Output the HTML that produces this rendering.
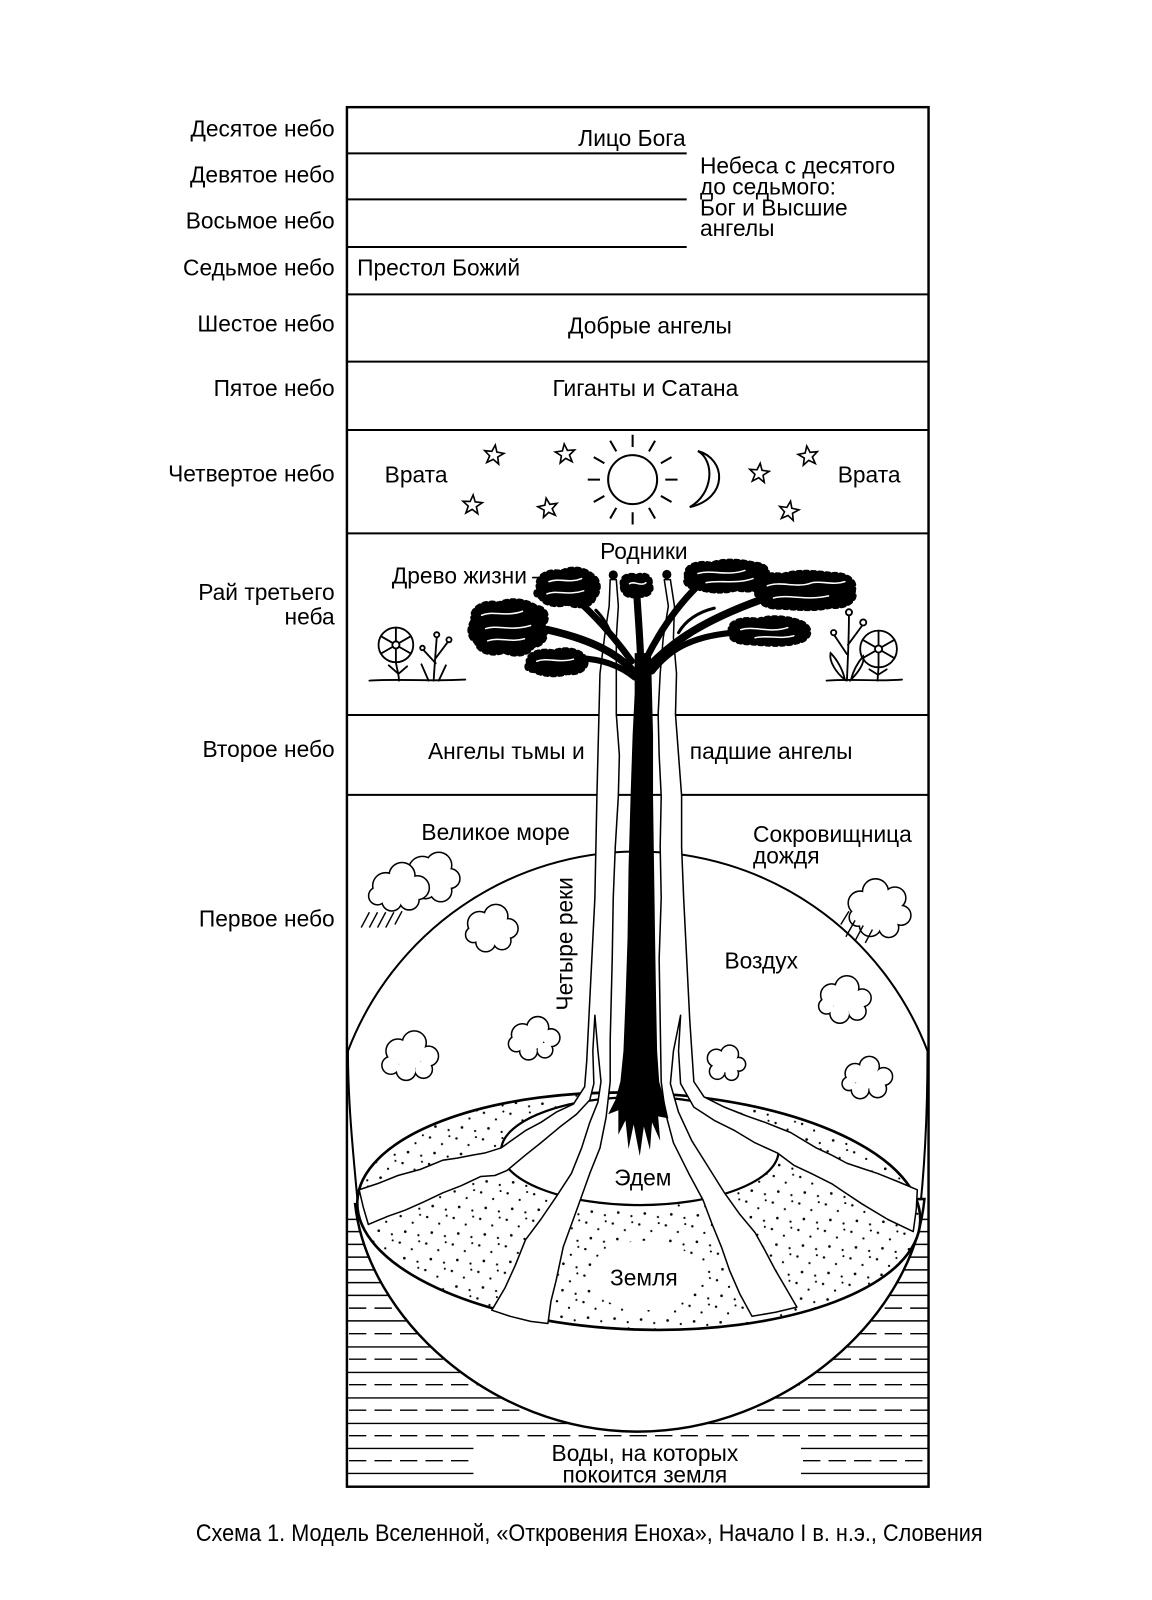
<!DOCTYPE html>
<html><head><meta charset="utf-8"><style>
html,body{margin:0;padding:0;background:#fff;}
svg{display:block;}
text{font-family:"Liberation Sans","Noto Sans CJK SC",sans-serif;font-size:22.3px;fill:#000;}
</style></head><body>
<svg xmlns="http://www.w3.org/2000/svg" xmlns:xlink="http://www.w3.org/1999/xlink" width="1152" height="1600" viewBox="0 0 1129 1568">
<defs>
 <pattern id="dt" width="26" height="26" patternUnits="userSpaceOnUse">
  <circle cx="3" cy="4" r="1.2"/><circle cx="15" cy="10" r="1.1"/><circle cx="8" cy="19" r="1.3"/><circle cx="21" cy="22" r="1.1"/><circle cx="22" cy="2" r="1"/>
 </pattern>
 <clipPath id="rc"><rect x="340" y="105" width="570" height="1352"/></clipPath>
 <polygon id="st" points="0,-10 2.47,-3.4 9.51,-3.09 3.99,1.3 5.88,8.09 0,4.2 -5.88,8.09 -3.99,1.3 -9.51,-3.09 -2.47,-3.4"/>
 <g id="c1b"><circle cx="414" cy="853" r="13"/><circle cx="430" cy="848" r="12"/><circle cx="441" cy="861" r="9"/><circle cx="432" cy="873" r="10"/><circle cx="417" cy="870" r="10"/><circle cx="428" cy="861" r="11"/></g>
 <g id="c1f"><circle cx="378" cy="868" r="12"/><circle cx="394" cy="858" r="12"/><circle cx="409" cy="870" r="11"/><circle cx="401" cy="882" r="9"/><circle cx="384" cy="883" r="9"/><circle cx="370" cy="878" r="8"/><circle cx="390" cy="871" r="12"/></g>
 <g id="c2"><circle cx="470" cy="905" r="11"/><circle cx="486" cy="898" r="11"/><circle cx="498" cy="910" r="9"/><circle cx="492" cy="922" r="8"/><circle cx="476" cy="923" r="9"/><circle cx="464" cy="916" r="7"/><circle cx="481" cy="911" r="11"/></g>
 <g id="c3"><circle cx="390" cy="1030" r="11"/><circle cx="406" cy="1022" r="11"/><circle cx="420" cy="1035" r="9"/><circle cx="415" cy="1048" r="8"/><circle cx="398" cy="1049" r="9"/><circle cx="383" cy="1044" r="8"/><circle cx="401" cy="1036" r="12"/></g>
 <g id="c4"><circle cx="512" cy="1014" r="10"/><circle cx="527" cy="1007" r="10"/><circle cx="540" cy="1017" r="8"/><circle cx="534" cy="1029" r="7"/><circle cx="518" cy="1030" r="8"/><circle cx="506" cy="1023" r="7"/><circle cx="523" cy="1018" r="10"/></g>
 <g id="c5"><circle cx="843" cy="885" r="11"/><circle cx="858" cy="874" r="12"/><circle cx="877" cy="880" r="10"/><circle cx="883" cy="897" r="9"/><circle cx="871" cy="909" r="9"/><circle cx="853" cy="907" r="10"/><circle cx="841" cy="899" r="8"/><circle cx="861" cy="892" r="14"/><circle cx="874" cy="892" r="10"/></g>
 <g id="c6"><circle cx="815" cy="975" r="10"/><circle cx="830" cy="968" r="11"/><circle cx="845" cy="978" r="8"/><circle cx="840" cy="991" r="8"/><circle cx="823" cy="993" r="9"/><circle cx="810" cy="986" r="7"/><circle cx="827" cy="981" r="11"/><circle cx="836" cy="982" r="8"/></g>
 <g id="c7"><circle cx="702" cy="1037" r="8"/><circle cx="715" cy="1033" r="8"/><circle cx="724" cy="1043" r="6"/><circle cx="717" cy="1052" r="6"/><circle cx="703" cy="1050" r="7"/><circle cx="712" cy="1043" r="8"/></g>
 <g id="c8"><circle cx="838" cy="1052" r="9"/><circle cx="852" cy="1045" r="9"/><circle cx="866" cy="1055" r="8"/><circle cx="860" cy="1067" r="8"/><circle cx="843" cy="1068" r="8"/><circle cx="832" cy="1062" r="6"/><circle cx="849" cy="1057" r="10"/><circle cx="858" cy="1058" r="8"/></g>
 <g id="fol">
  <path d="M528,577 C524,566 536,558 550,561 C560,555 574,558 580,564 C588,568 588,580 582,586 C580,594 566,596 556,591 C545,595 532,591 530,585 C524,584 524,580 528,577Z"/>
  <path d="M464,608 C460,597 474,588 489,592 C500,586 517,589 525,595 C537,596 538,608 531,614 C538,622 533,632 522,633 C518,642 503,643 494,638 C482,643 468,638 467,629 C459,625 459,614 464,608Z"/>
  <path d="M518,650 C515,641 530,636 543,639 C554,634 570,638 573,645 C578,652 569,661 556,659 C545,663 530,661 523,657 C516,657 515,653 518,650Z"/>
  <path d="M610,573 C608,565 617,562 624,565 C632,561 639,566 637,573 C641,580 633,585 624,583 C616,586 609,581 610,573Z"/>
  <path d="M673,565 C670,555 684,550 697,553 C710,548 728,550 740,553 C752,553 756,563 748,569 C750,577 735,580 722,577 C708,581 692,579 684,576 C673,576 670,570 673,565Z"/>
  <path d="M742,577 C738,567 752,561 767,564 C782,559 800,561 815,563 C830,562 840,570 836,579 C841,588 828,596 814,594 C798,598 780,596 765,595 C750,596 739,588 742,577Z"/>
  <path d="M716,619 C713,610 727,605 743,608 C757,603 777,606 787,611 C797,617 793,627 781,629 C767,633 749,631 736,630 C722,630 714,626 716,619Z"/>
 </g>
</defs>

<rect x="0" y="0" width="1129" height="1568" fill="#fff"/>

<!-- heaven dividers -->
<path d="M340 150.3H673 M340 195.4H673 M340 242H673 M340 288.5H910 M340 354.4H910 M340 421.4H910 M340 522.7H910 M340 700.7H910 M340 779H910" stroke="#000" stroke-width="2" fill="none"/>

<!-- water -->
<g stroke="#000" stroke-width="1.4" fill="none">
 <path d="M340 1195H910 M340 1207H910 M340 1219.5H910 M340 1232H910 M340 1244.5H910 M340 1257H910 M340 1269.5H910 M340 1294.5H910 M340 1320H910 M340 1345H910 M340 1370H910 M340 1395H910 M340 1419.5H464 M785 1419.5H910 M340 1444H464 M785 1444H910"/>
 <path stroke-dasharray="17 8" d="M342 1282H910 M342 1307H910 M342 1332H910 M342 1357H910 M342 1382H910 M342 1407H910 M342 1431.5H464 M787 1431.5H910"/>
</g>

<!-- sphere outline -->
<path d="M351,1183 C346,1130 341,1080 341,1030 A304 304 0 0 1 909,1030 C909,1090 906,1150 900,1200" fill="none" stroke="#000" stroke-width="2" clip-path="url(#rc)"/>

<!-- bowl -->
<path d="M348,1180 C360,1290 480,1403 625,1403 C770,1403 895,1290 906,1175 Z" fill="#fff" stroke="#000" stroke-width="2.4"/>

<!-- disc -->
<g transform="rotate(2 626 1187)">
 <ellipse cx="626" cy="1187" rx="276" ry="116" fill="#fff"/>
 <ellipse cx="626" cy="1187" rx="276" ry="116" fill="url(#dt)"/>
</g>
<ellipse cx="632" cy="1250" rx="55" ry="34" fill="#fff"/>
<ellipse cx="626" cy="1187" rx="276" ry="116" fill="none" stroke="#000" stroke-width="2.6" transform="rotate(2 626 1187)"/>

<!-- Eden -->
<ellipse cx="627" cy="1128" rx="136" ry="53" fill="#fff" stroke="#000" stroke-width="2.2"/>

<!-- river systems -->
<polygon fill="#fff" stroke="#000" stroke-width="1.5" stroke-linejoin="round" points="598,568 597,594 593,620 588,660 587,700 586,740 585,780 584,830 583,880 580,940 577,1000 575,1040 573,1065 562,1082 545,1090 530,1100 515,1108 491,1125 475,1130 463,1132 448,1135 434,1137 412,1146 390,1152 370,1160 352,1166 356,1183 361,1200 380,1192 397,1186 415,1178 434,1169 452,1162 471,1153 485,1152 497,1147 515,1132 530,1120 548,1105 565,1092 578,1078 582,1062 581,1030 583,995 586,1030 589,1060 586,1080 578,1100 570,1125 560,1150 545,1173 530,1195 515,1215 505,1240 495,1262 482,1284 500,1290 520,1295 537,1297 540,1275 545,1255 552,1222 560,1200 568,1178 578,1150 588,1125 594,1095 598,1060 598,1020 599,980 600,940 601,880 603,830 606,780 607,740 604,700 604,660 604,625 606,594 604,568"/>
<polygon fill="#fff" stroke="#000" stroke-width="1.5" stroke-linejoin="round" points="651,568 655,594 650,625 647,660 645,700 646,740 648,780 647,830 648,880 646,940 647,1000 648,1060 652,1090 660,1120 675,1150 689,1176 698,1200 707,1222 715,1245 725,1268 737,1290 760,1286 781,1281 770,1262 760,1245 750,1226 740,1208 725,1190 710,1169 695,1145 678,1118 665,1090 657,1062 660,1030 667,995 665,1030 667,1062 680,1085 700,1098 720,1108 740,1120 762,1130 778,1142 795,1150 815,1160 830,1170 845,1180 870,1195 895,1207 898,1185 899,1166 880,1158 860,1150 845,1145 830,1140 815,1132 800,1125 775,1110 750,1100 730,1093 710,1085 690,1075 680,1060 676,1000 673,940 670,880 668,830 668,780 665,740 662,700 663,660 660,625 661,594 657,568"/>

<!-- springs -->
<circle cx="601" cy="563.5" r="4.5" fill="#000"/>
<circle cx="653.5" cy="563" r="4.5" fill="#000"/>

<!-- trunk -->
<polygon fill="#000" points="622,640 622,680 620,720 618,780 616,850 615,920 613,980 611,1030 608,1060 603,1078 596,1092 606,1088 606,1112 613,1098 616,1126 621,1102 627,1133 631,1104 637,1127 639,1100 647,1118 645,1094 655,1096 651,1078 646,1060 644,1030 643,980 642,920 641,850 640,780 640,720 639,680 638,640"/>

<!-- branches -->
<g fill="none" stroke="#000" stroke-linecap="round">
 <path d="M628,650 C627,620 625,600 624,580" stroke-width="7"/>
 <path d="M619,648 C606,630 590,610 568,590" stroke-width="6.5"/>
 <path d="M623,660 C605,640 580,627 536,617" stroke-width="7.5"/>
 <path d="M622,664 C610,654 592,646 568,645" stroke-width="6"/>
 <path d="M633,646 C645,622 660,598 682,576" stroke-width="6.5"/>
 <path d="M637,652 C660,628 690,608 745,588" stroke-width="7.5"/>
 <path d="M639,658 C655,638 675,624 718,620" stroke-width="6"/>
 <path d="M600,625 C596,612 590,604 584,598" stroke-width="3"/>
 <path d="M665,620 C672,608 684,600 700,596" stroke-width="3"/>
 <path d="M522,566 L531,566" stroke-width="1.5"/>
</g>

<!-- foliage -->
<use xlink:href="#fol" fill="#000" stroke="#000" stroke-width="5" stroke-dasharray="3 4" stroke-linecap="round"/>
<g fill="none" stroke="#fff" stroke-width="1.5" stroke-linecap="round">
 <path d="M538,570 C548,566 558,572 570,567 M536,582 C546,578 556,584 572,579"/>
 <path d="M472,603 C484,598 496,605 512,599 M476,616 C488,612 500,619 520,613 M478,628 C490,624 500,630 514,626"/>
 <path d="M526,648 C536,644 548,650 562,646"/>
 <path d="M684,562 C698,558 712,565 730,559 M692,571 C706,568 720,573 738,567"/>
 <path d="M752,574 C766,569 780,577 796,571 C806,569 816,574 828,570 M758,586 C774,582 790,589 812,584"/>
 <path d="M726,617 C740,613 754,621 772,615 M740,625 C752,622 764,627 778,623"/>
 <path d="M617,572 C622,569 628,575 633,571"/>
</g>

<!-- clouds -->
<use xlink:href="#c1b" fill="#fff" stroke="#000" stroke-width="3"/><use xlink:href="#c1b" fill="#fff"/>
<use xlink:href="#c1f" fill="#fff" stroke="#000" stroke-width="3"/><use xlink:href="#c1f" fill="#fff"/>
<use xlink:href="#c2" fill="#fff" stroke="#000" stroke-width="3"/><use xlink:href="#c2" fill="#fff"/>
<use xlink:href="#c3" fill="#fff" stroke="#000" stroke-width="3"/><use xlink:href="#c3" fill="#fff"/>
<use xlink:href="#c4" fill="#fff" stroke="#000" stroke-width="3"/><use xlink:href="#c4" fill="#fff"/>
<use xlink:href="#c5" fill="#fff" stroke="#000" stroke-width="3"/><use xlink:href="#c5" fill="#fff"/>
<use xlink:href="#c6" fill="#fff" stroke="#000" stroke-width="3"/><use xlink:href="#c6" fill="#fff"/>
<use xlink:href="#c7" fill="#fff" stroke="#000" stroke-width="3"/><use xlink:href="#c7" fill="#fff"/>
<use xlink:href="#c8" fill="#fff" stroke="#000" stroke-width="3"/><use xlink:href="#c8" fill="#fff"/>
<g stroke="#000" stroke-width="1.4" fill="none">
 <path d="M362,894 L354,909 M370,894 L362,909 M378,894 L370,909 M386,894 L378,909 M394,893 L387,906"/>
 <path d="M832,893 L824,906 M838,902 L829,918 M846,907 L838,922 M855,911 L848,924"/>
</g>

<!-- sun, moon, stars -->
<g fill="none" stroke="#000" stroke-width="2">
 <circle cx="620" cy="470" r="24"/>
 <path d="M652,470H664 M647.7,486L658.1,492 M636,497.7L642,508.1 M620,502V514 M604,497.7L598,508.1 M592.3,486L581.9,492 M588,470H576 M592.3,454L581.9,448 M604,442.3L598,431.9 M620,438V426 M636,442.3L642,431.9 M647.7,454L658.1,448"/>
 <path d="M684,442 C712,450 714,488 676,497 C699,484 701,452 684,442 Z" fill="#fff"/>
</g>
<g fill="#fff" stroke="#000" stroke-width="1.6" stroke-linejoin="miter">
 <use xlink:href="#st" transform="translate(484,446) rotate(8)"/>
 <use xlink:href="#st" transform="translate(554,445) rotate(-6)"/>
 <use xlink:href="#st" transform="translate(463,495) rotate(4)"/>
 <use xlink:href="#st" transform="translate(537,498) rotate(-10)"/>
 <use xlink:href="#st" transform="translate(744,464) rotate(6)"/>
 <use xlink:href="#st" transform="translate(792,447) rotate(-8)"/>
 <use xlink:href="#st" transform="translate(773,501) rotate(10)"/>
</g>

<!-- flowers -->
<g fill="none" stroke="#000" stroke-width="1.8" stroke-linecap="round">
 <path d="M362,667 C390,665 420,668 456,666"/>
 <circle cx="388" cy="632" r="17"/>
 <circle cx="388" cy="632" r="3.5"/>
 <path d="M388,615V628.5 M388,635.5V649 M373.3,623.5L385,630.2 M391,633.8L402.7,640.5 M373.3,640.5L385,633.8 M391,630.2L402.7,623.5"/>
 <path d="M388,649 C389,656 391,661 391,667 M390,660 L381,652 M391,660 L399,653"/>
 <path d="M425,667 C426,650 427,638 428,625 M427,645 L439,629 M427,650 L415,637 M420,667 L413,651 M430,667 L437,652"/>
 <circle cx="428" cy="622" r="2.5"/><circle cx="440" cy="627" r="2.5"/><circle cx="414" cy="635" r="2.2"/>
 <path d="M810,667 C840,665 860,668 884,666"/>
 <circle cx="861" cy="636" r="18"/>
 <circle cx="861" cy="636" r="3.5"/>
 <path d="M861,618V632.5 M861,639.5V654 M845.4,627L858,634.2 M864,637.8L876.6,645 M845.4,645L858,637.8 M864,634.2L876.6,627"/>
 <path d="M861,654 L860,667 M860,661 L852,656 M861,661 L869,656"/>
 <path d="M830,667 C831,645 832,625 832,603 M831,632 L845,613 M830,641 L818,623"/>
 <circle cx="832" cy="600" r="3"/><circle cx="846" cy="610" r="3"/><circle cx="817" cy="620" r="2.6"/>
 <path d="M828,666 C820,660 812,648 814,640 C820,646 826,656 828,666 Z"/>
 <path d="M834,666 C840,660 848,650 846,643 C840,650 836,658 834,666 Z"/>
</g>

<!-- labels left -->
<g text-anchor="end">
 <text x="328" y="134">Десятое небо</text>
 <text x="328" y="179">Девятое небо</text>
 <text x="328" y="224">Восьмое небо</text>
 <text x="328" y="270">Седьмое небо</text>
 <text x="328" y="325">Шестое небо</text>
 <text x="328" y="388">Пятое небо</text>
 <text x="328" y="472">Четвертое небо</text>
 <text x="328" y="588">Рай третьего</text>
 <text x="328" y="612">неба</text>
 <text x="328" y="742">Второе небо</text>
 <text x="328" y="908">Первое небо</text>
</g>

<!-- labels inside -->
<text x="672" y="143" text-anchor="end">Лицо Бога</text>
<text x="686" y="170">Небеса с десятого</text>
<text x="686" y="190.5">до седьмого:</text>
<text x="686" y="211">Бог и Высшие</text>
<text x="686" y="231.5">ангелы</text>
<text x="350" y="270">Престол Божий</text>
<text x="637" y="327" text-anchor="middle">Добрые ангелы</text>
<text x="632.5" y="388" text-anchor="middle">Гиганты и Сатана</text>
<text x="377" y="473">Врата</text>
<text x="821" y="473">Врата</text>
<text x="631" y="548" text-anchor="middle">Родники</text>
<text x="384" y="572">Древо жизни</text>
<text x="573" y="744" text-anchor="end">Ангелы тьмы и</text>
<text x="676" y="744">падшие ангелы</text>
<text x="413" y="823">Великое море</text>
<text x="738" y="825">Сокровищница</text>
<text x="738" y="846">дождя</text>
<text transform="translate(561,925) rotate(-90)" text-anchor="middle">Четыре реки</text>
<text x="710" y="949">Воздух</text>
<text x="630" y="1162" text-anchor="middle">Эдем</text>
<text x="631" y="1260" text-anchor="middle">Земля</text>
<text x="632" y="1432" text-anchor="middle">Воды, на которых</text>
<text x="632" y="1453" text-anchor="middle">покоится земля</text>

<!-- frame -->
<rect x="340" y="105" width="570" height="1352" fill="none" stroke="#000" stroke-width="2.4"/>

<!-- caption -->
<text x="192" y="1510" textLength="771" lengthAdjust="spacingAndGlyphs" style="font-size:23.5px">Схема 1.  Модель Вселенной, «Откровения Еноха», Начало I в. н.э., Словения</text>
</svg>
</body></html>
